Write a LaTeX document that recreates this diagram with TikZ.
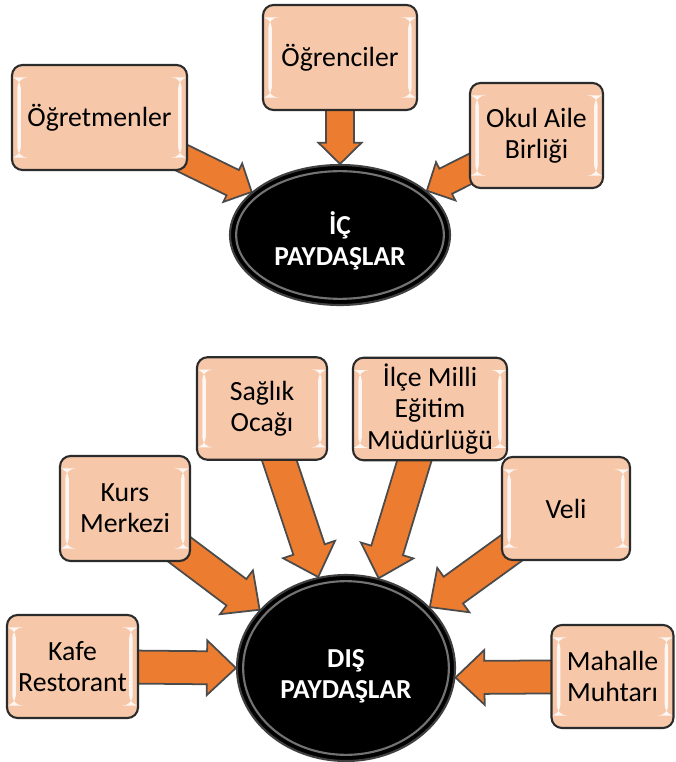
\documentclass[tikz,border=0pt]{standalone}
\usepackage{fontspec}
\setmainfont{Carlito}
\usetikzlibrary{shapes.geometric,calc,backgrounds}

\definecolor{kuturenk}{HTML}{F6C8A9}
\definecolor{okrenk}{HTML}{EC7C30}
\definecolor{kenarrenk}{HTML}{2B2B2B}

% block arrow from the centre of a box to a point on the ellipse
\newcommand{\blockarrow}[2]{%
  \begin{scope}[on background layer]
  \coordinate (h) at ($(#2)!\okboy!(#1)$);
  \draw[okstil] ($(#1)!\okgov!90:(#2)$) -- ($(h)!\okgov!90:(#2)$) -- ($(h)!\okbas!90:(#2)$) -- (#2)
    -- ($(h)!\okbas!-90:(#2)$) -- ($(h)!\okgov!-90:(#2)$) -- ($(#1)!\okgov!-90:(#2)$) -- cycle;
  \end{scope}}

\begin{document}
\begin{tikzpicture}[
  kutu/.style={draw=kenarrenk, line width=1.2pt, fill=kuturenk, rounded corners=6pt, align=center,
    inner sep=2pt, font=\fontsize{15.8}{17.8}\selectfont,
    path picture={
      \fill[white, opacity=.85] ([shift={(3pt,-7pt)}]path picture bounding box.north west) rectangle ([shift={(5pt,7pt)}]path picture bounding box.south west);
      \fill[white, opacity=.85] ([shift={(-5pt,-7pt)}]path picture bounding box.north east) rectangle ([shift={(-3pt,7pt)}]path picture bounding box.south east);}},
  paydas/.style={ellipse, fill=black, draw=black!75, line width=1.2pt, text=white, align=center,
    inner sep=0pt, font=\fontsize{15.6}{17.8}\selectfont\bfseries,
    path picture={
      \draw[white, opacity=.45, line width=1.2pt] let \p1=(path picture bounding box.north east), \p2=(path picture bounding box.center)
        in (\p2) ellipse [x radius=\x1-\x2-3.5pt, y radius=\y1-\y2-3.5pt];}},
  okstil/.style={fill=okrenk, draw=kenarrenk!85, line width=1pt, line join=miter}
]
\useasboundingbox (0,0) rectangle (13.5,-15.24);

\node[kutu, minimum width=3.5cm, minimum height=2.1cm] (ogretmen) at (1.99,-2.35) {Öğretmenler};
\node[kutu, minimum width=3.08cm, minimum height=2.1cm] (ogrenci) at (6.8,-1.15) {Öğrenciler};
\node[kutu, minimum width=2.66cm, minimum height=2.1cm] (okul) at (10.73,-2.71) {Okul Aile\\Birliği};
\node[paydas, minimum width=4.4cm, minimum height=2.8cm] (ic) at (6.8,-4.7) {\rule{0pt}{20pt}İÇ\\PAYDAŞLAR};

\node[kutu, minimum width=2.6cm, minimum height=2.05cm] (saglik) at (5.24,-8.17) {Sağlık\\Ocağı};
\node[kutu, minimum width=3.08cm, minimum height=2.05cm] (ilce) at (8.6,-8.18) {İlçe Milli\\Eğitim\\Müdürlüğü};
\node[kutu, minimum width=2.6cm, minimum height=2.1cm] (kurs) at (2.5,-10.17) {Kurs\\Merkezi};
\node[kutu, minimum width=2.56cm, minimum height=2.06cm] (veli) at (11.32,-10.17) {Veli};
\node[kutu, minimum width=2.62cm, minimum height=2.06cm] (kafe) at (1.45,-13.33) {Kafe\\Restorant};
\node[kutu, minimum width=2.44cm, minimum height=2.06cm] (muhtar) at (12.25,-13.53) {Mahalle\\Muhtarı};
\node[paydas, minimum width=4.36cm, minimum height=3.72cm] (dis) at (6.92,-13.36) {\rule{0pt}{20pt}DIŞ\\PAYDAŞLAR};

% ic paydaslar
\def\okgov{8pt}\def\okbas{12.2pt}\def\okboy{12pt}
\blockarrow{ogretmen.center}{ic.154}
\blockarrow{ogrenci.center}{ic.north}
\blockarrow{okul.center}{ic.27}

% dis paydaslar
\def\okgov{9.4pt}\def\okbas{15.6pt}\def\okboy{16.5pt}
\blockarrow{saglik.center}{dis.107}
\blockarrow{ilce.center}{dis.70}
\blockarrow{kurs.center}{dis.146}
\blockarrow{veli.center}{dis.36}
\blockarrow{kafe.center}{dis.west}
\blockarrow{muhtar.center}{dis.-5}

\end{tikzpicture}
\end{document}
